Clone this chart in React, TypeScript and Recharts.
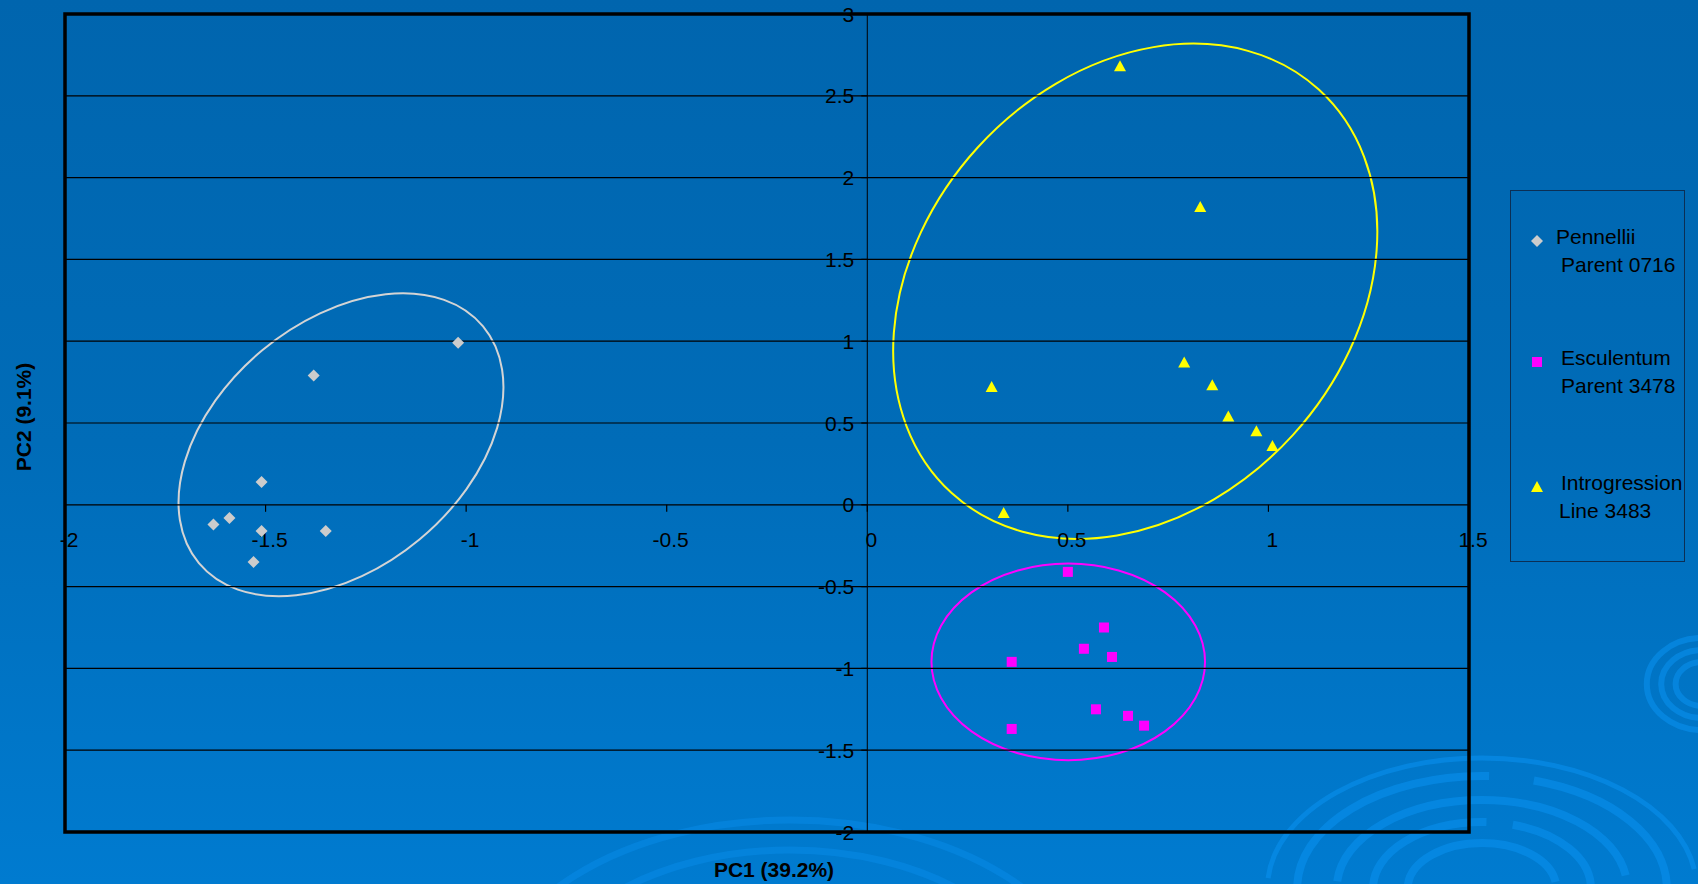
import React from "react";
import { ScatterChart, Scatter, XAxis, YAxis, ReferenceLine, ReferenceDot, ReferenceArea } from "recharts";

const X_TICKS = [-2, -1.5, -1, -0.5, 0, 0.5, 1, 1.5];
const Y_TICKS = [-2, -1.5, -1, -0.5, 0, 0.5, 1, 1.5, 2, 2.5, 3];

const PENNELLII_X = [-1.02, -1.38, -1.51, -1.59, -1.63, -1.51, -1.35, -1.53];
const PENNELLII_Y = [0.99, 0.79, 0.14, -0.08, -0.12, -0.16, -0.16, -0.35];

const ESCULENTUM_X = [0.5, 0.59, 0.54, 0.61, 0.36, 0.57, 0.65, 0.69, 0.36];
const ESCULENTUM_Y = [-0.41, -0.75, -0.88, -0.93, -0.96, -1.25, -1.29, -1.35, -1.37];

const INTRO_X = [0.63, 0.83, 0.31, 0.79, 0.86, 0.9, 0.97, 1.01, 0.34];
const INTRO_Y = [2.68, 1.82, 0.72, 0.87, 0.73, 0.54, 0.45, 0.36, -0.05];

const LEGEND_LABELS = [
  ["Pennellii", "Parent 0716"],
  ["Esculentum", "Parent 3478"],
  ["Introgression", "Line 3483"],
];

// ellipses drawn around each group: centre, half-extent in data units, tilt in degrees
const ELLIPSES = [
  { cx: -1.312, cy: 0.367, rx: 0.461, ry: 0.752, angle: 39.8, color: "#d4d4d4" },
  { cx: 0.668, cy: 1.305, rx: 0.68, ry: 1.304, angle: 47.7, color: "#ffff00" },
  { cx: 0.501, cy: -0.96, rx: 0.341, ry: 0.601, angle: 0, color: "#ff00ff" },
];

const toPoints = (xs: number[], ys: number[]) => xs.map((x, i) => ({ x, y: ys[i] }));

const FONT = "'Liberation Sans', Arial, sans-serif";

const Diamond = (p: any) => (
  <polygon points={`${p.cx},${p.cy - 6} ${p.cx + 6},${p.cy} ${p.cx},${p.cy + 6} ${p.cx - 6},${p.cy}`} fill="#cccccc" />
);
const Square = (p: any) => <rect x={p.cx - 5} y={p.cy - 5} width={10} height={10} fill="#ff00ff" />;
const Triangle = (p: any) => (
  <polygon points={`${p.cx},${p.cy - 6} ${p.cx + 6},${p.cy + 5} ${p.cx - 6},${p.cy + 5}`} fill="#ffff00" />
);

const MARKERS = [Diamond, Square, Triangle];

// faint background decoration of the slide template
function Swirls() {
  const big = [130, 112, 88, 66, 45];
  const small = [46, 34, 22];
  const stroke = "rgba(10,145,240,0.55)";
  return (
    <svg width={1698} height={884} style={{ position: "absolute", left: 0, top: 0 }}>
      {big.map((r, i) => (
        <ellipse key={i} cx={1482} cy={888} rx={r * 1.65} ry={r} fill="none" stroke={stroke} strokeWidth={i === 0 ? 5 : 8}
          strokeDasharray={i % 2 ? `${r * 3} ${r * 0.4}` : `${r * 4} ${r * 0.3}`} />
      ))}
      {small.map((r, i) => (
        <ellipse key={"s" + i} cx={1702} cy={684} rx={r * 1.2} ry={r} fill="none" stroke={stroke} strokeWidth={6} />
      ))}
      {[160, 190].map((r, i) => (
        <ellipse key={"b" + i} cx={790} cy={1010} rx={r * 1.6} ry={r} fill="none" stroke="rgba(10,145,240,0.4)" strokeWidth={7} />
      ))}
    </svg>
  );
}

export default function App() {
  const groups = [toPoints(PENNELLII_X, PENNELLII_Y), toPoints(ESCULENTUM_X, ESCULENTUM_Y), toPoints(INTRO_X, INTRO_Y)];
  return (
    <div
      style={{
        position: "absolute",
        left: 0,
        top: 0,
        width: 1698,
        height: 884,
        overflow: "hidden",
        background: "linear-gradient(180deg, #0065ae 0%, #006cb8 50%, #007bd0 100%)",
        fontFamily: FONT,
      }}
    >
      <Swirls />
      <div style={{ position: "absolute", left: 0, top: 0 }}>
        <ScatterChart width={1698} height={884} margin={{ top: 14, right: 229, bottom: 52, left: 65 }}>
          <XAxis type="number" dataKey="x" domain={[-2, 1.5]} ticks={X_TICKS} hide />
          <YAxis type="number" dataKey="y" domain={[-2, 3]} ticks={Y_TICKS} hide />
          {Y_TICKS.map((v) => (
            <ReferenceLine key={"g" + v} y={v} stroke="#000" strokeWidth={1.2} />
          ))}
          <ReferenceLine x={0} stroke="#000" strokeWidth={1} />
          {X_TICKS.map((v) => (
            <ReferenceDot
              key={"xt" + v}
              x={v}
              y={0}
              r={0}
              shape={(p: any) => (
                <g>
                  <line x1={p.cx} y1={p.cy} x2={p.cx} y2={p.cy + 7} stroke="#000" strokeWidth={1.2} />
                  <text x={p.cx + 4} y={p.cy + 42} textAnchor="middle" fontSize={21} fontFamily={FONT} fill="#000">
                    {v}
                  </text>
                </g>
              )}
            />
          ))}
          {Y_TICKS.map((v) => (
            <ReferenceDot
              key={"yt" + v}
              x={0}
              y={v}
              r={0}
              shape={(p: any) => (
                <g>
                  <line x1={p.cx - 6} y1={p.cy} x2={p.cx} y2={p.cy} stroke="#000" strokeWidth={1.2} />
                  <text x={p.cx - 13} y={p.cy} dy="0.36em" textAnchor="end" fontSize={21} fontFamily={FONT} fill="#000">
                    {v}
                  </text>
                </g>
              )}
            />
          ))}
          {ELLIPSES.map((e, i) => (
            <ReferenceArea
              key={"e" + i}
              x1={e.cx - e.rx}
              x2={e.cx + e.rx}
              y1={e.cy - e.ry}
              y2={e.cy + e.ry}
              ifOverflow="visible"
              shape={(p: any) => {
                const cx = p.x + p.width / 2;
                const cy = p.y + p.height / 2;
                return (
                  <ellipse
                    cx={cx}
                    cy={cy}
                    rx={Math.abs(p.width) / 2}
                    ry={Math.abs(p.height) / 2}
                    transform={`rotate(${-e.angle} ${cx} ${cy})`}
                    fill="none"
                    stroke={e.color}
                    strokeWidth={2}
                  />
                );
              }}
            />
          ))}
          <ReferenceArea x1={-2} x2={1.5} y1={-2} y2={3} fill="none" stroke="#000" strokeWidth={3.5} fillOpacity={0} />
          {groups.map((g, i) => (
            <Scatter key={i} name={LEGEND_LABELS[i].join(" ")} data={g} shape={MARKERS[i]} isAnimationActive={false} />
          ))}
        </ScatterChart>
      </div>
      <div
        style={{
          position: "absolute",
          left: 1510,
          top: 190,
          width: 175,
          height: 372,
          border: "1.5px solid #0b2f55",
          boxSizing: "border-box",
        }}
      >
        {LEGEND_LABELS.map((lines, i) => {
          const Marker = MARKERS[i];
          const top = [32, 153, 278][i];
          return (
            <div key={i} style={{ position: "absolute", left: 0, top, width: 175, height: 60 }}>
              <svg width={30} height={30} style={{ position: "absolute", left: 11, top: 3 }}>
                <Marker cx={15} cy={15} />
              </svg>
              <div style={{ position: "absolute", left: 45 + (i === 0 ? 0 : 5), top: 0, fontSize: 21, lineHeight: "28px", color: "#000", whiteSpace: "nowrap" }}>
                {lines[0]}
              </div>
              <div style={{ position: "absolute", left: i === 2 ? 48 : 50, top: 28, fontSize: 21, lineHeight: "28px", color: "#000", whiteSpace: "nowrap" }}>
                {lines[1]}
              </div>
            </div>
          );
        })}
      </div>
      <div style={{ position: "absolute", left: 774, top: 870, transform: "translate(-50%, -50%)", fontSize: 21, fontWeight: "bold", color: "#000", whiteSpace: "nowrap" }}>
        PC1 (39.2%)
      </div>
      <div style={{ position: "absolute", left: 24, top: 417, transform: "translate(-50%, -50%) rotate(-90deg)", fontSize: 21, fontWeight: "bold", color: "#000", whiteSpace: "nowrap" }}>
        PC2 (9.1%)
      </div>
    </div>
  );
}
